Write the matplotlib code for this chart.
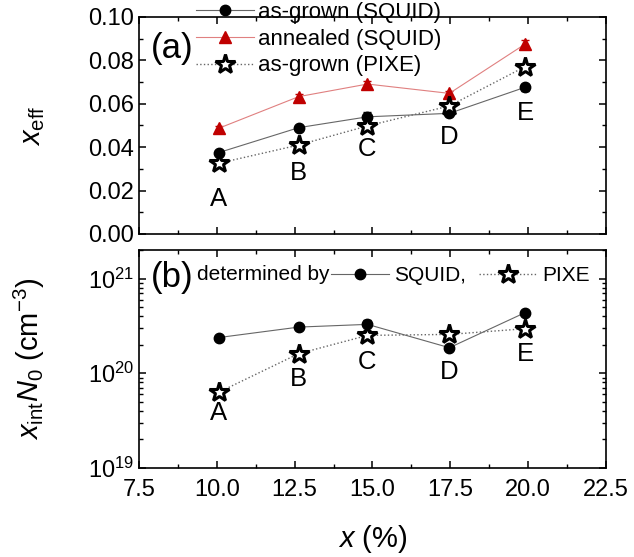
import numpy as np
import matplotlib.pyplot as plt

plt.rcParams['font.family'] = ['Liberation Sans', 'DejaVu Sans']
plt.rcParams['mathtext.fontset'] = 'custom'
plt.rcParams['mathtext.rm'] = 'Liberation Sans'
plt.rcParams['mathtext.it'] = 'Liberation Sans:italic'
plt.rcParams['mathtext.bf'] = 'Liberation Sans:bold'
plt.rcParams['xtick.direction'] = 'in'
plt.rcParams['ytick.direction'] = 'in'
plt.rcParams['xtick.top'] = True
plt.rcParams['ytick.right'] = True
plt.rcParams['axes.linewidth'] = 1.2

# samples A..E, Mn content x (%)
samples = ['A', 'B', 'C', 'D', 'E']
x_pct = [10.06, 12.63, 14.84, 17.47, 19.90]

# (a) effective x
eff_grown = [0.0375, 0.0490, 0.0540, 0.0556, 0.0676]
eff_grown_err = [0.0008, 0.0008, 0.0020, 0.0010, 0.0015]
eff_annealed = [0.0487, 0.0633, 0.0691, 0.0648, 0.0875]
eff_annealed_err = [0.0010, 0.0012, 0.0012, 0.0012, 0.0020]
eff_pixe = [0.0326, 0.0410, 0.0498, 0.0590, 0.0771]
# letter positions in panel (a)
label_y_a = [0.0161, 0.0281, 0.0392, 0.0447, 0.0558]

# (b) x_int * N0 (cm^-3)
n_squid = [2.38e20, 3.07e20, 3.28e20, 1.86e20, 4.36e20]
n_squid_err = [0.1e20, 0.15e20, 0.4e20, 0.1e20, 0.2e20]
n_pixe = [6.3e19, 1.61e20, 2.51e20, 2.57e20, 2.95e20]
label_y_b = [3.77e19, 8.8e19, 1.31e20, 1.03e20, 1.61e20]

fig = plt.figure(figsize=(6.34, 5.57), dpi=100)
ax1 = fig.add_axes([0.2192, 0.5799, 0.7366, 0.3896])
ax2 = fig.add_axes([0.2192, 0.1598, 0.7366, 0.3914], sharex=ax1)

red = '#c00000'
grey = '#666666'

# ---- panel (a)
ax1.errorbar(x_pct, eff_grown, yerr=eff_grown_err, fmt='none', ecolor='k', capsize=3, elinewidth=1.8)
ax1.errorbar(x_pct, eff_annealed, yerr=eff_annealed_err, fmt='none', ecolor=red, capsize=3, elinewidth=1.8)
h1, = ax1.plot(x_pct, eff_grown, '-', color=grey, lw=0.8, marker='o', ms=7.5, mfc='k', mec='k',
               label='as-grown (SQUID)')
h2, = ax1.plot(x_pct, eff_annealed, '-', color='#e08080', lw=0.8, marker='^', ms=8.5, mfc=red, mec=red,
               label='annealed (SQUID)')
h3, = ax1.plot(x_pct, eff_pixe, ':', color=grey, lw=1.0, marker='*', ms=15, mfc='white', mec='k', mew=2.2,
               label='as-grown (PIXE)')

for s, xx, yy in zip(samples, x_pct, label_y_a):
    ax1.text(xx, yy, s, ha='center', va='center', fontsize=18.5)

ax1.set_ylim(0, 0.10)
ax1.set_yticks([0.00, 0.02, 0.04, 0.06, 0.08, 0.10])
ax1.set_yticks(np.arange(0, 0.1, 0.01), minor=True)
ax1.set_ylabel(r'$x_{\rm eff}$', fontsize=21)
ax1.yaxis.set_label_coords(-0.198, 0.5)
ax1.tick_params(labelbottom=False, labelsize=17)
ax1.text(0.025, 0.855, '(a)', transform=ax1.transAxes, fontsize=25, va='center', ha='left')
ax1.legend(handles=[h1, h2, h3], loc='upper left', bbox_to_anchor=(196 / 634, 0.996),
           bbox_transform=fig.transFigure, frameon=False, fontsize=16, borderpad=0, borderaxespad=0,
           handlelength=2.6, handletextpad=0.2, labelspacing=0.25)

# ---- panel (b)
ax2.errorbar(x_pct, n_squid, yerr=n_squid_err, fmt='none', ecolor='k', capsize=3, elinewidth=1.8)
g1, = ax2.plot(x_pct, n_squid, '-', color=grey, lw=0.8, marker='o', ms=7.5, mfc='k', mec='k', label='SQUID,')
g2, = ax2.plot(x_pct, n_pixe, ':', color=grey, lw=1.0, marker='*', ms=15, mfc='white', mec='k', mew=2.2,
               label='PIXE')

for s, xx, yy in zip(samples, x_pct, label_y_b):
    ax2.text(xx, yy, s, ha='center', va='center', fontsize=18.5)

ax2.set_yscale('log')
ax2.set_ylim(1e19, 2e21)
ax2.set_ylabel(r'$x_{\rm int}N_0\ {\rm (cm^{-3})}$', fontsize=21)
ax2.yaxis.set_label_coords(-0.198, 0.5)
ax2.set_xlim(7.5, 22.5)
ax2.set_xticks([7.5, 10.0, 12.5, 15.0, 17.5, 20.0, 22.5])
ax2.set_xticklabels(['7.5', '10.0', '12.5', '15.0', '17.5', '20.0', '22.5'])
ax2.set_xticks(np.arange(8.75, 22.5, 2.5), minor=True)
ax2.tick_params(labelsize=17)
ax2.tick_params(axis='x', pad=8)
ax2.set_xlabel(r'$x$ (%)', fontsize=21, labelpad=16)
ax2.text(0.025, 0.875, '(b)', transform=ax2.transAxes, fontsize=25, va='center', ha='left')
fig.text(197 / 634, 1 - 275 / 557, 'determined by', fontsize=15, va='center', ha='left')
ax2.legend(handles=[g1, g2], loc='center left', bbox_to_anchor=(331 / 634, 1 - 276 / 557),
           bbox_transform=fig.transFigure, ncol=2, frameon=False, fontsize=15, borderpad=0,
           borderaxespad=0, handlelength=2.8, handletextpad=0.25, columnspacing=0.6)

for ax in (ax1, ax2):
    ax.tick_params(which='major', length=5, width=1.1)
    ax.tick_params(which='minor', length=3, width=1.0)

fig.savefig('out.png', dpi=100)
